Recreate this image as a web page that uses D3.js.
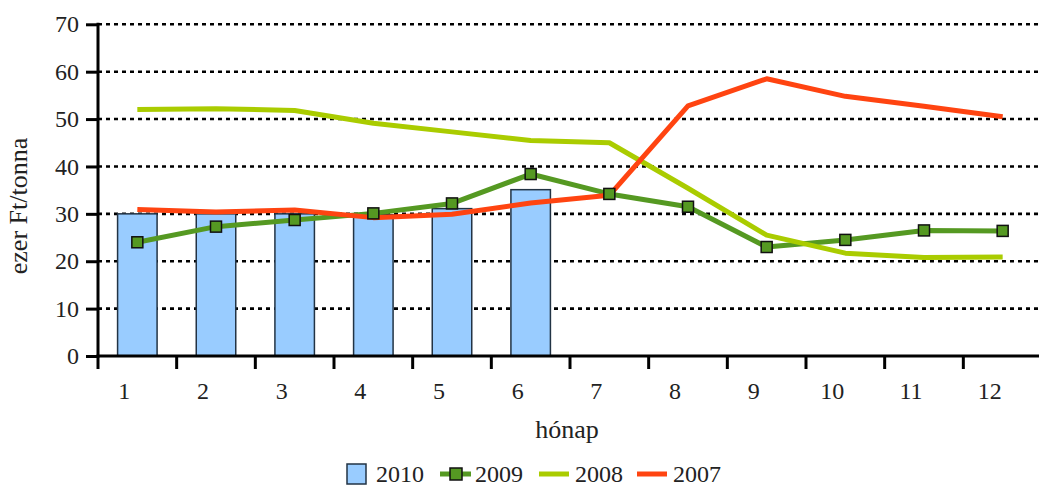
<!DOCTYPE html>
<html><head><meta charset="utf-8">
<script src="https://cdn.jsdelivr.net/npm/d3@7/dist/d3.min.js"></script>
<style>body{margin:0;background:#fff;}svg{display:block;font-family:"Liberation Serif","DejaVu Serif",serif;}</style>
</head><body>
<svg id="c" width="1039" height="486"></svg>
<script>
const months = ["1","2","3","4","5","6","7","8","9","10","11","12"];
const yTicks = [0,10,20,30,40,50,60,70];
const s2010 = [30, 30, 30, 29.8, 31.1, 35.1];
const s2009 = [24.0, 27.3, 28.7, 30.1, 32.2, 38.4, 34.2, 31.5, 23.0, 24.5, 26.5, 26.4];
const s2008 = [52.0, 52.2, 51.8, 49.1, 47.3, 45.5, 45.0, 35.4, 25.5, 21.7, 20.8, 20.9];
const s2007 = [30.9, 30.4, 30.8, 29.2, 29.9, 32.3, 33.9, 52.8, 58.5, 54.8, 52.7, 50.5];
const seriesNames = ["2010","2009","2008","2007"];

const FONT = "Liberation Serif, DejaVu Serif, serif";
const svg = d3.select("#c");
const x = d3.scaleBand().domain(months).range([98, 1042]).paddingInner(0).paddingOuter(0);
const y = d3.scaleLinear().domain([0,70]).range([356, 24.3]);
const cx = d => x(d) + x.bandwidth()/2;

// grid
svg.append("g").selectAll("line").data(yTicks.filter(t=>t>0)).join("line")
  .attr("x1",98).attr("x2",1039).attr("y1",d=>y(d)).attr("y2",d=>y(d))
  .attr("stroke","#000").attr("stroke-width",2.6).attr("stroke-dasharray","4,4");

// bars
const bw = 39.5;
svg.append("g").selectAll("rect").data(s2010).join("rect")
  .attr("x",(d,i)=>cx(months[i])-bw/2).attr("width",bw)
  .attr("y",d=>y(d)).attr("height",d=>y(0)-y(d))
  .attr("fill","#99CCFF").attr("stroke","#223344").attr("stroke-width",1.5);

const line = d3.line().x((d,i)=>cx(months[i])).y(d=>y(d));
svg.append("path").datum(s2009).attr("d",line).attr("fill","none").attr("stroke","#559922").attr("stroke-width",5).attr("stroke-linejoin","round");
svg.append("path").datum(s2008).attr("d",line).attr("fill","none").attr("stroke","#AACC00").attr("stroke-width",5).attr("stroke-linejoin","round");
svg.append("path").datum(s2007).attr("d",line).attr("fill","none").attr("stroke","#FF4411").attr("stroke-width",5).attr("stroke-linejoin","round");

// markers 2009
const ms = 11;
svg.append("g").selectAll("rect").data(s2009).join("rect")
  .attr("x",(d,i)=>cx(months[i])-ms/2).attr("y",d=>y(d)-ms/2)
  .attr("width",ms).attr("height",ms)
  .attr("fill","#559922").attr("stroke","#111").attr("stroke-width",1.5);

// y axis
const yAxis = d3.axisLeft(y).tickValues(yTicks).tickSize(12).tickPadding(7).tickFormat(d3.format("d"));
const gy = svg.append("g").attr("transform","translate(98,0)").call(yAxis).attr("font-family",FONT);
gy.select(".domain").attr("stroke","#000").attr("stroke-width",3).attr("d","M0,22.8V357.5");
gy.selectAll(".tick line").attr("stroke","#000").attr("stroke-width",3);
gy.selectAll(".tick text").attr("font-size",24).attr("fill","#222").attr("font-family",FONT);

// x axis
const xAxis = d3.axisBottom(x).tickSize(0).tickPadding(0);
const gx = svg.append("g").attr("transform","translate(0,356)").call(xAxis).attr("font-family",FONT);
gx.select(".domain").attr("stroke","#000").attr("stroke-width",3).attr("d","M96.5,0H1039");
gx.selectAll(".tick text").attr("font-size",24).attr("fill","#222").attr("font-family",FONT)
  .attr("dx",-13).attr("dy",0).attr("y",43);
svg.append("g").selectAll("line").data(months).join("line")
  .attr("x1",d=>x(d)).attr("x2",d=>x(d)).attr("y1",356).attr("y2",369)
  .attr("stroke","#000").attr("stroke-width",3);

// axis titles
svg.append("text").attr("x",567).attr("y",438).attr("text-anchor","middle").attr("font-size",26).attr("fill","#222").text("hónap");
svg.append("text").attr("transform","translate(27,206) rotate(-90)").attr("text-anchor","middle").attr("font-size",26).attr("fill","#222").text("ezer Ft/tonna");

// legend
const lg = svg.append("g").attr("font-size",24).attr("fill","#222");
lg.append("rect").attr("x",347).attr("y",464).attr("width",19).attr("height",20).attr("fill","#99CCFF").attr("stroke","#223344").attr("stroke-width",1.5);
lg.append("text").attr("x",376).attr("y",482).text(seriesNames[0]);
lg.append("line").attr("x1",440).attr("x2",471).attr("y1",474).attr("y2",474).attr("stroke","#559922").attr("stroke-width",5);
lg.append("rect").attr("x",450).attr("y",468).attr("width",12).attr("height",12).attr("fill","#559922").attr("stroke","#111").attr("stroke-width",1.5);
lg.append("text").attr("x",475).attr("y",482).text(seriesNames[1]);
lg.append("line").attr("x1",539).attr("x2",569).attr("y1",474).attr("y2",474).attr("stroke","#AACC00").attr("stroke-width",5);
lg.append("text").attr("x",575).attr("y",482).text(seriesNames[2]);
lg.append("line").attr("x1",637).attr("x2",667).attr("y1",474).attr("y2",474).attr("stroke","#FF4411").attr("stroke-width",5);
lg.append("text").attr("x",673).attr("y",482).text(seriesNames[3]);
</script>
</body></html>
